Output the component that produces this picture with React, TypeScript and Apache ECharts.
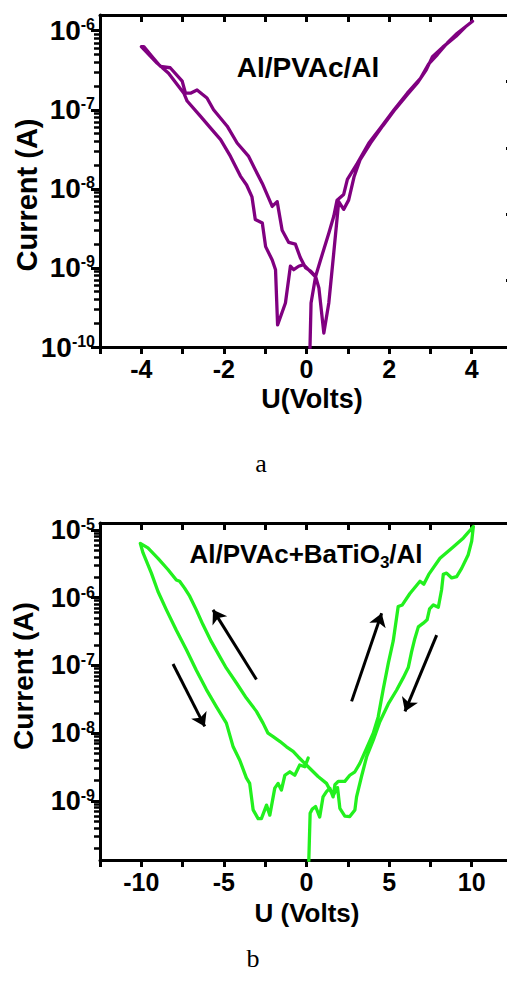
import React, { useEffect, useRef } from "react";
import * as echarts from "echarts";

// ---------- Panel a : Al/PVAc/Al ----------
const VOLT_A = [
  0.08, 0.11, 0.22, 0.34, 0.54, 0.66, 0.74, 0.9, 0.99, 1.23, 1.51, 1.79, 2.12, 2.44, 2.76, 2.96, 3.17, 3.41, 3.65, 4.02,
  3.85, 3.62, 3.3, 3.05, 2.9, 2.7, 2.45, 2.15, 1.85, 1.55, 1.3, 1.15, 1.02, 0.9, 0.78, 0.66, 0.54, 0.42, 0.3, 0.22, 0.1,
  -0.02, -0.15, -0.27, -0.43, -0.59, -0.71, -0.83, -1.07, -1.24, -1.4, -1.68, -1.92, -2.25, -2.41, -2.53, -2.65, -2.81,
  -2.93, -3.01, -3.3, -3.54, -3.74, -3.94, -4.0,
  -3.62, -3.34, -2.97, -2.89, -2.57, -2.29, -2.08, -1.84, -1.6, -1.45, -1.32, -1.24, -1.07, -0.99, -0.83, -0.75, -0.7,
  -0.51, -0.39, -0.31, -0.19, -0.07, 0.1, 0.2,
];
const CURR_A = [
  7.9e-11, 3.6e-10, 7.8e-10, 1.26e-9, 2.75e-9, 4.5e-9, 7.2e-9, 8.5e-9, 1.32e-8, 2.1e-8, 3.8e-8, 5.9e-8, 1.0e-7, 1.62e-7, 2.5e-7, 3.8e-7, 5.0e-7, 7.0e-7, 9.3e-7, 1.32e-6,
  1.12e-6, 8.5e-7, 6.2e-7, 4.7e-7, 3.2e-7, 2.24e-7, 1.58e-7, 1.02e-7, 6.3e-8, 3.8e-8, 2.35e-8, 1.41e-8, 7.2e-9, 5.5e-9, 6.9e-9, 1.55e-9, 3.6e-10, 1.5e-10, 5.6e-10, 7.8e-10, 9.1e-10,
  1.0e-9, 1.35e-9, 2.0e-9, 2.1e-9, 3.0e-9, 6.9e-9, 6.0e-9, 1.17e-8, 1.74e-8, 2.57e-8, 3.8e-8, 6.2e-8, 1.0e-7, 1.41e-7, 1.58e-7, 1.78e-7, 1.62e-7,
  1.62e-7, 2.3e-7, 3.4e-7, 3.55e-7, 4.7e-7, 6.3e-7, 6.3e-7,
  3.9e-7, 2.9e-7, 1.62e-7, 1.29e-7, 8.3e-8, 5.6e-8, 4.2e-8, 2.57e-8, 1.45e-8, 1.12e-8, 7.9e-9, 4.1e-9, 3.7e-9, 1.86e-9, 1.26e-9, 9.5e-10, 1.9e-10,
  3.6e-10, 1.05e-9, 9.5e-10, 1.05e-9, 1.1e-9, 8.9e-10, 7.9e-10,
];
const X_LABELS_A = [-4, -2, 0, 2, 4];
const Y_TICKS_A = [1e-10, 1e-9, 1e-8, 1e-7, 1e-6];
const DECADES_A = [-10, -9, -8, -7, -6];

// ---------- Panel b : Al/PVAc+BaTiO3/Al ----------
const VOLT_B = [
  0.12, 0.22, 0.35, 0.55, 0.8, 1.0, 1.21, 1.41, 1.61, 1.72, 1.92, 2.32, 2.62, 2.93, 3.23, 3.64, 4.04, 4.34, 4.64, 4.95,
  5.25, 5.45, 5.55, 5.8, 6.26, 6.87, 7.1, 7.4, 8.08, 8.88, 9.5, 10.1,
  10.0, 9.79, 9.39, 9.09, 8.79, 8.48, 8.28, 8.18, 7.98, 7.68, 7.45, 7.3, 7.07, 6.77, 6.56, 6.36, 6.16, 5.86, 5.45, 4.95,
  4.44, 4.04, 3.64, 3.33, 3.03, 2.93, 2.62, 2.32, 2.02, 1.88, 1.61, 1.21, 0.7, 0.1,
  -0.51, -0.81, -1.21, -1.62, -2.02, -2.33, -2.63, -3.03, -3.64, -4.24, -4.85, -5.25, -5.76, -6.27, -6.67, -7.07, -7.38,
  -7.68, -7.88, -8.39, -8.99, -9.6, -10.06,
  -9.9, -9.39, -8.99, -8.48, -7.88, -7.27, -6.67, -6.06, -5.45, -4.85, -4.44, -4.04, -3.64, -3.44, -3.23, -2.93, -2.73,
  -2.42, -2.22, -1.92, -1.72, -1.52, -1.31, -1.01, -0.71, -0.41, -0.1, 0.1,
];
const CURR_B = [
  9e-11, 6.6e-10, 7.6e-10, 8.3e-10, 5.8e-10, 1.15e-9, 1.38e-9, 1.55e-9, 1.15e-9, 1.74e-9, 1.95e-9, 1.95e-9, 2.4e-9, 2.7e-9, 3.6e-9, 6.0e-9, 1.0e-8, 1.74e-8, 4.4e-8, 1.07e-7,
  2.3e-7, 5.0e-7, 7.4e-7, 7.8e-7, 1.15e-6, 1.74e-6, 1.58e-6, 2.2e-6, 3.8e-6, 5.6e-6, 7.6e-6, 1.12e-5,
  6.8e-6, 4.3e-6, 2.7e-6, 2.04e-6, 1.95e-6, 2.3e-6, 2.2e-6, 1.32e-6, 7.2e-7, 7.8e-7, 6.8e-7, 4.7e-7, 4.2e-7, 3.7e-7, 2.5e-7, 1.58e-7, 9.3e-8, 6.6e-8, 4.3e-8, 2.7e-8,
  1.48e-8, 7.9e-9, 4.5e-9, 2.3e-9, 1.15e-9, 7.4e-10, 5.9e-10, 6.0e-10, 7.8e-10, 1.58e-9, 1.2e-9, 1.82e-9, 2.3e-9, 3.2e-9,
  4.5e-9, 5.4e-9, 6.3e-9, 7.6e-9, 8.9e-9, 1.0e-8, 1.41e-8, 2.1e-8, 3.3e-8, 5.5e-8, 9.1e-8, 1.35e-7, 2.24e-7, 4.0e-7, 6.6e-7, 1.05e-6, 1.38e-6,
  1.74e-6, 1.82e-6, 2.6e-6, 3.8e-6, 5.4e-6, 6.3e-6,
  4.6e-6, 2.3e-6, 1.23e-6, 6.6e-7, 3.3e-7, 1.7e-7, 8.5e-8, 4.4e-8, 2.45e-8, 1.41e-8, 6.3e-9, 4.0e-9, 2.2e-9, 1.82e-9, 7.4e-10, 5.5e-10, 5.5e-10,
  8.7e-10, 6.2e-10, 1.55e-9, 1.82e-9, 1.45e-9, 2.4e-9, 2.7e-9, 2.4e-9, 3.4e-9, 3.2e-9, 4.3e-9,
];
const X_LABELS_B = [-10, -5, 0, 5, 10];
const Y_TICKS_B = [1e-9, 1e-8, 1e-7, 1e-6, 1e-5];
const DECADES_B = [-10, -9, -8, -7, -6, -5];

// sweep-direction arrows (panel b)
const ARROW_FROM_V = [-3.03, -8.08, 2.73, 7.88];
const ARROW_FROM_I = [6.2e-8, 1.05e-7, 2.95e-8, 2.8e-7];
const ARROW_TO_V = [-5.66, -6.16, 4.55, 5.96];
const ARROW_TO_I = [6.6e-7, 1.26e-8, 5.9e-7, 2.1e-8];

const MINOR_MULT = [2, 3, 4, 5, 6, 7, 8, 9];

const FONT = "'Liberation Sans', Arial, Helvetica, sans-serif";
const SERIF = "'Liberation Serif', 'Times New Roman', serif";

function minorTicks(decades: number[], max: number) {
  const out: number[] = [];
  decades.forEach((d) => MINOR_MULT.forEach((m) => out.push(m * Math.pow(10, d))));
  return out.filter((v) => v <= max);
}

function supLabel(v: number) {
  const e = Math.round(Math.log10(v));
  return `{b|10}{s|${e}}`;
}

type PanelCfg = {
  xMin: number;
  xMax: number;
  xInterval: number;
  xLabels: number[];
  yMin: number;
  yMax: number;
  yTicks: number[];
  decades: number[];
  yFont: number;
  gridTop: number;
  gridHeight: number;
  rightAxis: boolean;
  series: any[];
  graphic: any[];
};

function buildPanel(c: PanelCfg) {
  const yAxis: any[] = [
    {
      type: "log",
      gridIndex: 0,
      min: c.yMin,
      max: c.yMax,
      position: "left",
      axisLine: { show: true, onZero: false, lineStyle: { color: "#000", width: 3 } },
      axisTick: { show: true, inside: false, length: 9, customValues: c.yTicks, lineStyle: { color: "#000", width: 3 } },
      axisLabel: {
        show: true,
        customValues: c.yTicks,
        margin: 5,
        formatter: supLabel,
        color: "#000",
        fontFamily: FONT,
        rich: {
          b: { fontSize: c.yFont, fontWeight: "bold", color: "#000", fontFamily: FONT, lineHeight: c.yFont, verticalAlign: "bottom" },
          s: { fontSize: 16, fontWeight: "bold", color: "#000", fontFamily: FONT, lineHeight: 16, verticalAlign: "top" },
        },
      },
      splitLine: { show: false },
      minorTick: { show: false },
    },
    {
      type: "log",
      gridIndex: 0,
      min: c.yMin,
      max: c.yMax,
      position: "left",
      axisLine: { show: false, onZero: false },
      axisTick: { show: true, inside: false, length: 6, customValues: minorTicks(c.decades, c.yMax), lineStyle: { color: "#000", width: 2.5 } },
      axisLabel: { show: false },
      splitLine: { show: false },
    },
  ];
  if (c.rightAxis) {
    yAxis.push({
      type: "value",
      gridIndex: 0,
      min: 0,
      max: 5,
      interval: 1,
      position: "right",
      axisLine: { show: true, onZero: false, lineStyle: { color: "#000", width: 3 } },
      axisTick: { show: true, inside: true, length: 7, lineStyle: { color: "#000", width: 3 } },
      axisLabel: { show: false },
      splitLine: { show: false },
    });
  }
  return {
    animation: false,
    textStyle: { fontFamily: FONT },
    grid: [{ left: 100, top: c.gridTop, width: 413, height: c.gridHeight, outerBoundsMode: "none", containLabel: false }],
    xAxis: [
      {
        type: "value",
        gridIndex: 0,
        min: c.xMin,
        max: c.xMax,
        interval: c.xInterval,
        position: "bottom",
        axisLine: { show: true, onZero: false, lineStyle: { color: "#000", width: 3 } },
        axisTick: { show: true, inside: false, length: 7, lineStyle: { color: "#000", width: 3 } },
        axisLabel: {
          show: true,
          customValues: c.xLabels,
          margin: 13,
          lineHeight: 18,
          color: "#000",
          fontSize: 25,
          fontWeight: "bold",
          fontFamily: FONT,
        },
        splitLine: { show: false },
      },
      {
        type: "value",
        gridIndex: 0,
        min: c.xMin,
        max: c.xMax,
        interval: c.xInterval,
        position: "top",
        axisLine: { show: true, onZero: false, lineStyle: { color: "#000", width: 3 } },
        axisTick: { show: true, inside: true, length: 7, lineStyle: { color: "#000", width: 3 } },
        axisLabel: { show: false },
        splitLine: { show: false },
      },
    ],
    yAxis,
    series: c.series,
    graphic: c.graphic,
  };
}

function optionA() {
  return buildPanel({
    xMin: -5,
    xMax: 5,
    xInterval: 1,
    xLabels: X_LABELS_A,
    yMin: 1e-10,
    yMax: 1.58e-6,
    yTicks: Y_TICKS_A,
    decades: DECADES_A,
    yFont: 28,
    gridTop: 15,
    gridHeight: 332,
    rightAxis: true,
    series: [
      {
        type: "line",
        xAxisIndex: 0,
        yAxisIndex: 0,
        data: VOLT_A.map((v, k) => [v, CURR_A[k]]),
        showSymbol: false,
        symbol: "none",
        clip: true,
        silent: true,
        lineStyle: { color: "#800080", width: 3.3, join: "round", cap: "round" },
      },
    ],
    graphic: [
      { type: "text", x: 308, y: 67, style: { text: "Al/PVAc/Al", fill: "#000", fontSize: 28, fontWeight: "bold", fontFamily: FONT, align: "center", verticalAlign: "middle" } },
      { type: "text", x: 27, y: 195, rotation: Math.PI / 2, style: { text: "Current (A)", fill: "#000", fontSize: 29, fontWeight: "bold", fontFamily: FONT, align: "center", verticalAlign: "middle" } },
      { type: "text", x: 312, y: 398.5, style: { text: "U(Volts)", fill: "#000", fontSize: 27, lineHeight: 20, fontWeight: "bold", fontFamily: FONT, align: "center", verticalAlign: "middle" } },
      { type: "text", x: 261, y: 463, style: { text: "a", fill: "#000", fontSize: 26, fontFamily: SERIF, align: "center", verticalAlign: "middle" } },
    ],
  });
}

function optionB() {
  const arrows = ARROW_FROM_V.map((v, k) => ({
    coords: [
      [v, ARROW_FROM_I[k]],
      [ARROW_TO_V[k], ARROW_TO_I[k]],
    ],
  }));
  return buildPanel({
    xMin: -12.5,
    xMax: 12.5,
    xInterval: 2.5,
    xLabels: X_LABELS_B,
    yMin: 1.35e-10,
    yMax: 1.26e-5,
    yTicks: Y_TICKS_B,
    decades: DECADES_B,
    yFont: 27,
    gridTop: 33,
    gridHeight: 337,
    rightAxis: false,
    series: [
      {
        type: "line",
        xAxisIndex: 0,
        yAxisIndex: 0,
        data: VOLT_B.map((v, k) => [v, CURR_B[k]]),
        showSymbol: false,
        symbol: "none",
        clip: true,
        silent: true,
        lineStyle: { color: "#22f01e", width: 3.3, join: "round", cap: "round" },
      },
      {
        type: "lines",
        coordinateSystem: "cartesian2d",
        xAxisIndex: 0,
        yAxisIndex: 0,
        silent: true,
        symbol: ["none", "arrow"],
        symbolSize: 13,
        lineStyle: { color: "#000", width: 3, opacity: 1, curveness: 0 },
        data: arrows,
      },
    ],
    graphic: [
      {
        type: "text",
        x: 306,
        y: 66,
        style: {
          text: "{a|Al/PVAc+BaTiO}{s|3}{a|/Al}",
          fill: "#000",
          fontFamily: FONT,
          align: "center",
          verticalAlign: "middle",
          rich: {
            a: { fontSize: 26, fontWeight: "bold", fontFamily: FONT, fill: "#000", lineHeight: 30, verticalAlign: "top" },
            s: { fontSize: 17, fontWeight: "bold", fontFamily: FONT, fill: "#000", lineHeight: 16, verticalAlign: "bottom", padding: [22, 0, 0, 0] },
          },
        },
      },
      { type: "text", x: 23, y: 186, rotation: Math.PI / 2, style: { text: "Current (A)", fill: "#000", fontSize: 28, fontWeight: "bold", fontFamily: FONT, align: "center", verticalAlign: "middle" } },
      { type: "text", x: 307, y: 423, style: { text: "U (Volts)", fill: "#000", fontSize: 26, lineHeight: 20, fontWeight: "bold", fontFamily: FONT, align: "center", verticalAlign: "middle" } },
      { type: "text", x: 253, y: 468, style: { text: "b", fill: "#000", fontSize: 26, fontFamily: SERIF, align: "center", verticalAlign: "middle" } },
    ],
  });
}

function Panel({ top, height, build }: { top: number; height: number; build: () => any }) {
  const ref = useRef<HTMLDivElement>(null);
  useEffect(() => {
    if (!ref.current) return;
    const chart = echarts.init(ref.current, null, { renderer: "svg" });
    chart.setOption(build());
    return () => {
      chart.dispose();
    };
  }, []);
  return <div ref={ref} style={{ position: "absolute", left: 0, top, width: 530, height }} />;
}

export default function App() {
  return (
    <div
      style={{
        position: "absolute",
        left: 0,
        top: 0,
        width: 507,
        height: 990,
        overflow: "hidden",
        background: "#fff",
      }}
    >
      <Panel top={0} height={490} build={optionA} />
      <Panel top={490} height={500} build={optionB} />
    </div>
  );
}
